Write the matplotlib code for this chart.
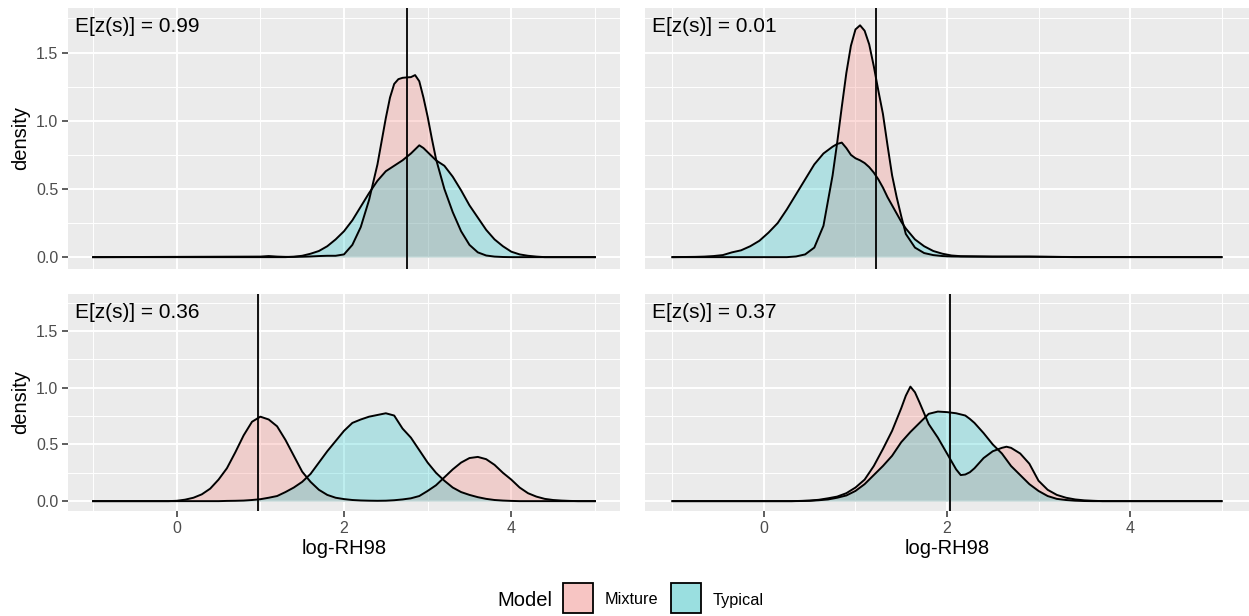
import matplotlib.pyplot as plt
import matplotlib.transforms as mtransforms
from matplotlib.patches import Rectangle

plt.rcParams['font.family'] = ['Liberation Sans', 'DejaVu Sans']

# ---- density curves, one panel at a time ----
# top-left panel
x_tl = [-1.0, 1.0, 1.1, 1.2, 1.3, 1.4, 1.5, 1.6, 1.7, 1.8, 1.9, 2.0, 2.1, 2.2, 2.3, 2.4,
        2.5, 2.55, 2.6, 2.65, 2.7, 2.75, 2.8, 2.85, 2.9, 2.95, 3.0, 3.05, 3.1, 3.2, 3.3,
        3.4, 3.5, 3.6, 3.7, 3.8, 3.9, 4.0, 4.1, 4.2, 4.3, 4.4, 5.0]
mix_tl = [0.0, 0.004, 0.008, 0.004, 0.002, 0.002, 0.003, 0.005, 0.008, 0.01, 0.01, 0.02,
          0.09, 0.22, 0.42, 0.68, 1.02, 1.17, 1.27, 1.305, 1.315, 1.318, 1.32, 1.335,
          1.29, 1.17, 1.03, 0.87, 0.72, 0.50, 0.33, 0.19, 0.09, 0.035, 0.012, 0.004,
          0.001, 0.0, 0.0, 0.0, 0.0, 0.0, 0.0]
typ_tl = [0.0, 0.0, 0.0, 0.0, 0.0, 0.003, 0.01, 0.025, 0.045, 0.08, 0.13, 0.19, 0.27,
          0.37, 0.47, 0.56, 0.63, 0.65, 0.67, 0.69, 0.71, 0.735, 0.76, 0.79, 0.82, 0.80,
          0.77, 0.74, 0.71, 0.67, 0.59, 0.49, 0.38, 0.29, 0.20, 0.13, 0.08, 0.04, 0.02,
          0.01, 0.004, 0.0, 0.0]

# top-right panel
x_tr = [-1.0, -0.75, -0.65, -0.55, -0.45, -0.35, -0.25, -0.15, -0.05, 0.05, 0.15, 0.25,
        0.35, 0.45, 0.55, 0.65, 0.75, 0.8, 0.85, 0.9, 0.95, 1.0, 1.05, 1.1, 1.15, 1.2,
        1.25, 1.3, 1.35, 1.4, 1.45, 1.5, 1.55, 1.65, 1.75, 1.85, 1.95, 2.05, 2.15, 2.5,
        2.9, 3.4, 5.0]
mix_tr = [0.0, 0.0, 0.0, 0.0, 0.0, 0.0, 0.0, 0.0, 0.0, 0.0, 0.0, 0.0,
          0.005, 0.02, 0.07, 0.23, 0.60, 0.84, 1.10, 1.35, 1.55, 1.67, 1.70, 1.66, 1.56,
          1.40, 1.22, 1.05, 0.82, 0.60, 0.44, 0.30, 0.17, 0.07, 0.03, 0.015, 0.008,
          0.005, 0.004, 0.003, 0.004, 0.0, 0.0]
typ_tr = [0.0, 0.002, 0.004, 0.008, 0.015, 0.035, 0.05, 0.08, 0.12, 0.18, 0.25, 0.35,
          0.46, 0.57, 0.68, 0.76, 0.81, 0.83, 0.84, 0.80, 0.75, 0.725, 0.71, 0.69, 0.66,
          0.62, 0.57, 0.51, 0.44, 0.38, 0.32, 0.26, 0.21, 0.13, 0.08, 0.045, 0.025,
          0.012, 0.007, 0.004, 0.003, 0.001, 0.0]

# bottom-left panel
x_bl = [-1.0, -0.1, 0.0, 0.1, 0.2, 0.3, 0.4, 0.5, 0.6, 0.7, 0.8, 0.9, 1.0, 1.1, 1.2,
        1.3, 1.4, 1.5, 1.6, 1.7, 1.8, 1.9, 2.0, 2.1, 2.2, 2.3, 2.4, 2.5, 2.6, 2.7, 2.8,
        2.9, 3.0, 3.1, 3.2, 3.3, 3.4, 3.5, 3.6, 3.7, 3.8, 3.9, 4.0, 4.1, 4.2, 4.3, 4.4,
        4.5, 4.6, 4.7, 4.8, 5.0]
mix_bl = [0.0, 0.0, 0.003, 0.013, 0.03, 0.06, 0.11, 0.19, 0.29, 0.43, 0.58, 0.70, 0.745,
          0.72, 0.66, 0.54, 0.40, 0.26, 0.17, 0.10, 0.055, 0.03, 0.018, 0.01, 0.006,
          0.004, 0.003, 0.004, 0.008, 0.015, 0.025, 0.045, 0.09, 0.14, 0.21, 0.28, 0.34,
          0.38, 0.39, 0.37, 0.32, 0.25, 0.19, 0.12, 0.07, 0.04, 0.02, 0.01, 0.005, 0.002,
          0.0, 0.0]
typ_bl = [0.0, 0.0, 0.0, 0.0, 0.0, 0.0, 0.0, 0.0, 0.002, 0.003, 0.005, 0.01, 0.017,
          0.03, 0.045, 0.08, 0.12, 0.17, 0.24, 0.34, 0.44, 0.53, 0.62, 0.69, 0.72, 0.745,
          0.76, 0.775, 0.755, 0.64, 0.56, 0.45, 0.34, 0.25, 0.18, 0.12, 0.08, 0.055,
          0.035, 0.02, 0.01, 0.005, 0.002, 0.0, 0.0, 0.0, 0.0, 0.0, 0.0, 0.0, 0.0, 0.0]

# bottom-right panel
x_br = [-1.0, 0.3, 0.4, 0.5, 0.6, 0.7, 0.8, 0.9, 1.0, 1.1, 1.2, 1.3, 1.4, 1.5, 1.55,
        1.6, 1.65, 1.7, 1.8, 1.9, 2.0, 2.1, 2.15, 2.2, 2.25, 2.3, 2.4, 2.5, 2.6, 2.65,
        2.7, 2.8, 2.9, 3.0, 3.1, 3.2, 3.3, 3.4, 3.5, 3.6, 3.7, 3.8, 5.0]
mix_br = [0.0, 0.0, 0.002, 0.005, 0.012, 0.025, 0.04, 0.07, 0.12, 0.19, 0.31, 0.46,
          0.62, 0.82, 0.93, 1.01, 0.96, 0.87, 0.68, 0.56, 0.42, 0.28, 0.23, 0.235, 0.255,
          0.29, 0.38, 0.44, 0.47, 0.48, 0.47, 0.42, 0.33, 0.18, 0.10, 0.055, 0.03, 0.015,
          0.007, 0.003, 0.0, 0.0, 0.0]
typ_br = [0.0, 0.0, 0.001, 0.003, 0.008, 0.015, 0.03, 0.05, 0.09, 0.15, 0.23, 0.31,
          0.40, 0.52, 0.565, 0.61, 0.65, 0.69, 0.77, 0.79, 0.785, 0.775, 0.765, 0.755,
          0.725, 0.69, 0.60, 0.50, 0.42, 0.365, 0.31, 0.23, 0.15, 0.09, 0.045, 0.02, 0.01,
          0.004, 0.001, 0.0, 0.0, 0.0, 0.0]

vlines = [2.755, 1.225, 0.974, 2.03]
ez_labels = ['E[z(s)] = 0.99', 'E[z(s)] = 0.01', 'E[z(s)] = 0.36', 'E[z(s)] = 0.37']
models = ['Mixture', 'Typical']
fill_colors = ['#F8766D', '#00BFC4']
key_colors = ['#F7C5C3', '#9ADFE0']

panels = [(x_tl, mix_tl, typ_tl), (x_tr, mix_tr, typ_tr),
          (x_bl, mix_bl, typ_bl), (x_br, mix_br, typ_br)]

W, H = 1249, 616
fig = plt.figure(figsize=(W / 100, H / 100), dpi=100)


def px_rect(x0, y0, x1, y1):
    return [x0 / W, 1 - y1 / H, (x1 - x0) / W, (y1 - y0) / H]


rects = [px_rect(68, 8, 620, 269), px_rect(645, 8, 1249, 269),
         px_rect(68, 294, 620, 511), px_rect(645, 294, 1249, 511)]

for i, (x, mix, typ) in enumerate(panels):
    ax = fig.add_axes(rects[i])
    ax.set_facecolor('#EBEBEB')
    for s in ax.spines.values():
        s.set_visible(False)
    ax.set_xlim(-1.3, 5.3)
    ax.set_ylim(-0.087, 1.827)
    ax.set_xticks([0, 2, 4])
    ax.set_xticks([-1, 1, 3, 5], minor=True)
    ax.set_yticks([0, 0.5, 1.0, 1.5])
    ax.set_yticklabels(['0.0', '0.5', '1.0', '1.5'])
    ax.set_yticks([0.25, 0.75, 1.25, 1.75], minor=True)
    ax.grid(which='major', color='white', lw=1.4)
    ax.grid(which='minor', color='white', lw=0.7)
    ax.set_axisbelow(True)
    ax.tick_params(which='minor', length=0)
    ax.tick_params(which='major', length=4, width=1.1, color='#333333',
                   labelcolor='#4D4D4D', labelsize=11.5, pad=3)

    for ys, c in zip([mix, typ], fill_colors):
        ax.fill_between(x, ys, color=c, alpha=0.25, lw=0)
        ax.plot(x, ys, color='black', lw=1.4, solid_joinstyle='round')
    ax.axvline(vlines[i], color='black', lw=1.3)

    trans = mtransforms.blended_transform_factory(ax.transData, ax.transAxes)
    ax.annotate(ez_labels[i], xy=(-1.22, 1), xycoords=trans, xytext=(0, -9),
                textcoords='offset pixels', ha='left', va='top', fontsize=15)

    if i < 2:
        ax.tick_params(axis='x', length=0, labelbottom=False)
    else:
        ax.set_xlabel('log-RH98', fontsize=14.5, labelpad=2)
    if i % 2 == 1:
        ax.tick_params(axis='y', length=0, labelleft=False)
    else:
        ax.set_ylabel('density', fontsize=14.5, labelpad=4)

# legend at the bottom
fig.text(497 / W, 1 - 600 / H, 'Model', fontsize=14.5, va='center', ha='left')
key_x = [563, 671]
text_x = [605, 713]
for m, kc, kx, tx in zip(models, key_colors, key_x, text_x):
    fig.add_artist(Rectangle((kx / W, 1 - 613 / H), 30 / W, 30 / H, transform=fig.transFigure,
                             facecolor=kc, edgecolor='black', lw=1.3))
    fig.text(tx / W, 1 - 600 / H, m, fontsize=11.7, va='center', ha='left')

fig.savefig('out.png', dpi=100)
